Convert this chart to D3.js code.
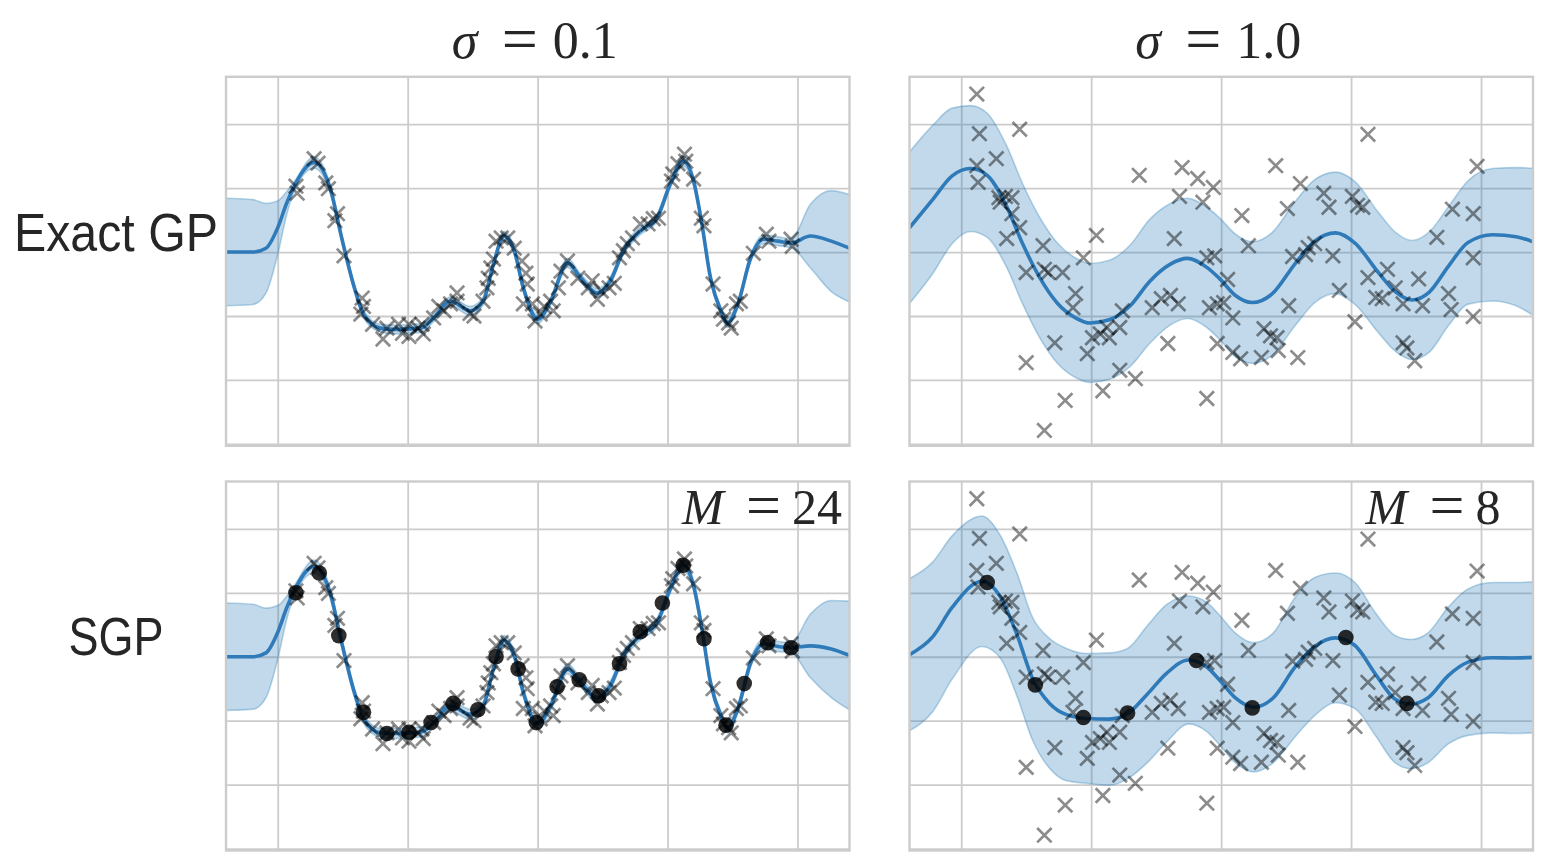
<!DOCTYPE html>
<html><head><meta charset="utf-8">
<script src="https://cdn.jsdelivr.net/npm/d3@7"></script>
<style>body{margin:0;background:#fff}</style>
</head><body>
<svg id="c" width="1548" height="866"></svg>
<script>
// ---------- tick values ----------
const xTicks = [-2, -1, 0, 1, 2];
const yTicks = [-3, -2, -1, 0, 1, 2];
const colNoise = ["0.1", "1.0"];
const rowLabels = ["Exact GP", "SGP"];
const inducingCount = ["24", "8"];

// ---------- observations (x, y) ----------
const dataLowNoise = [[-1.86,1.03],[-1.85,0.92],[-1.72,1.46],[-1.69,1.39],[-1.63,1.08],[-1.61,0.99],[-1.54,0.60],[-1.56,0.49],[-1.49,-0.06],[-1.35,-0.72],[-1.34,-0.85],[-1.36,-0.97],[-1.27,-1.13],[-1.19,-1.36],[-1.16,-1.19],[-1.07,-1.13],[-1.04,-1.27],[-0.99,-1.13],[-0.99,-1.32],[-0.92,-1.19],[-0.89,-1.13],[-0.88,-1.28],[-0.80,-1.03],[-0.76,-0.85],[-0.72,-0.92],[-0.67,-0.81],[-0.62,-0.64],[-0.62,-0.77],[-0.52,-0.96],[-0.49,-1.00],[-0.42,-0.77],[-0.39,-0.56],[-0.38,-0.41],[-0.36,-0.25],[-0.34,-0.11],[-0.32,0.17],[-0.28,0.22],[-0.23,0.22],[-0.18,0.06],[-0.12,-0.14],[-0.09,-0.33],[-0.08,-0.50],[-0.11,-0.81],[-0.04,-0.81],[-0.02,-1.08],[0.02,-0.97],[0.05,-0.85],[0.10,-0.77],[0.12,-0.92],[0.16,-0.56],[0.18,-0.30],[0.23,-0.14],[0.31,-0.41],[0.39,-0.56],[0.42,-0.45],[0.46,-0.74],[0.49,-0.61],[0.55,-0.56],[0.59,-0.49],[0.63,-0.09],[0.66,0.02],[0.69,0.13],[0.73,0.22],[0.79,0.44],[0.85,0.44],[0.89,0.52],[0.93,0.53],[1.03,1.11],[1.04,1.22],[1.08,1.38],[1.13,1.53],[1.14,1.42],[1.20,1.14],[1.26,0.53],[1.28,0.41],[1.35,-0.50],[1.41,-0.92],[1.43,-1.05],[1.47,-1.11],[1.49,-1.19],[1.53,-0.81],[1.56,-0.77],[1.66,-0.02],[1.76,0.28],[1.78,0.17],[1.95,0.20],[1.96,0.09]];

const dataHighNoise = [[-1.88,2.47],[-1.86,1.85],[-1.55,1.92],[-1.73,1.46],[-1.88,1.35],[-1.87,1.09],[-1.71,0.85],[-1.66,0.87],[-1.61,0.85],[-1.70,0.78],[-1.61,0.60],[-1.55,0.38],[-1.65,0.21],[-1.37,0.10],[-1.50,-0.32],[-1.36,-0.27],[-1.33,-0.32],[-1.22,-0.32],[-0.96,0.26],[-1.06,-0.09],[-1.12,-0.65],[-1.14,-0.87],[-1.28,-1.42],[-1.50,-1.73],[-1.20,-2.32],[-1.36,-2.79],[-1.03,-1.59],[-0.99,-1.34],[-0.93,-1.28],[-0.88,-1.18],[-0.86,-1.34],[-0.78,-1.18],[-0.76,-0.92],[-0.78,-1.85],[-0.66,-1.98],[-0.91,-2.17],[-0.63,1.20],[-0.53,-0.87],[-0.46,-0.73],[-0.39,-0.68],[-0.33,-0.81],[-0.41,-1.43],[-0.36,0.21],[-0.30,1.32],[-0.32,0.87],[-0.18,1.15],[-0.14,0.78],[-0.06,1.01],[-0.11,-0.09],[-0.05,-0.06],[-0.09,-0.87],[-0.03,-0.81],[-0.03,-1.43],[-0.11,-2.29],[0.02,-0.79],[0.05,-0.43],[0.09,-1.03],[0.09,-1.57],[0.15,-1.67],[0.16,0.57],[0.21,0.10],[0.31,-1.65],[0.33,-1.20],[0.38,-1.31],[0.43,-1.34],[0.44,-1.54],[0.59,-1.65],[0.52,-0.84],[0.42,1.35],[0.61,1.07],[0.51,0.68],[0.55,-0.07],[0.65,-0.04],[0.67,0.07],[0.72,0.13],[0.79,0.92],[0.83,0.70],[0.86,-0.06],[0.91,-0.60],[1.01,0.87],[1.05,0.73],[1.09,0.70],[1.13,1.84],[1.03,-1.09],[1.13,-0.40],[1.19,-0.71],[1.24,-0.73],[1.28,-0.27],[1.34,-0.56],[1.40,-0.81],[1.40,-1.42],[1.43,-1.50],[1.49,-1.70],[1.52,-0.42],[1.55,-0.84],[1.66,0.23],[1.75,-0.65],[1.77,-0.90],[1.78,0.67],[1.94,0.60],[1.94,-0.09],[1.94,-1.01],[1.97,1.34]];

// ---------- posterior: exact GP, sigma = 0.1 ----------
const exactLowX      = [-2.40,-2.19,-2.09,-2.00,-1.93,-1.88,-1.72,-1.59,-1.51,-1.41,-1.34,-1.21,-1.11,-0.90,-0.80,-0.67,-0.52,-0.42,-0.34,-0.26,-0.18,-0.11,0.00,0.10,0.23,0.33,0.46,0.56,0.66,0.79,0.92,1.02,1.12,1.20,1.26,1.33,1.41,1.46,1.54,1.64,1.74,1.85,1.95,2.10,2.26,2.40];
const exactLowMean   = [0.00,0.00,0.06,0.38,0.77,1.00,1.40,0.95,0.24,-0.56,-0.97,-1.19,-1.21,-1.19,-1.03,-0.77,-0.92,-0.77,-0.19,0.25,0.02,-0.56,-1.05,-0.77,-0.17,-0.40,-0.64,-0.45,0.02,0.33,0.54,1.06,1.42,1.11,0.49,-0.40,-0.92,-1.11,-0.82,-0.09,0.20,0.17,0.14,0.25,0.17,0.06];
const exactLowSpread = [0.84,0.82,0.70,0.42,0.18,0.08,0.09,0.07,0.06,0.06,0.06,0.06,0.07,0.07,0.06,0.07,0.07,0.06,0.06,0.07,0.06,0.06,0.07,0.06,0.07,0.06,0.07,0.06,0.06,0.06,0.06,0.06,0.08,0.07,0.06,0.06,0.06,0.07,0.06,0.06,0.07,0.07,0.07,0.50,0.79,0.84];

// ---------- posterior: SGP, sigma = 0.1, M = 24 ----------
const sgpLowX      = [-2.40,-2.19,-2.09,-2.00,-1.93,-1.88,-1.72,-1.59,-1.51,-1.41,-1.34,-1.21,-1.11,-0.90,-0.80,-0.67,-0.52,-0.42,-0.34,-0.26,-0.18,-0.11,0.00,0.10,0.23,0.33,0.46,0.56,0.66,0.79,0.92,1.02,1.12,1.20,1.26,1.33,1.41,1.46,1.54,1.64,1.74,1.85,1.95,2.10,2.26,2.40];
const sgpLowMean   = [0.00,0.00,0.06,0.38,0.77,1.00,1.41,0.95,0.24,-0.56,-0.97,-1.19,-1.20,-1.18,-1.03,-0.77,-0.90,-0.77,-0.19,0.25,0.02,-0.56,-1.05,-0.77,-0.19,-0.40,-0.64,-0.45,0.02,0.33,0.54,1.06,1.43,1.11,0.49,-0.40,-0.92,-1.11,-0.82,-0.09,0.20,0.16,0.14,0.17,0.12,0.02];
const sgpLowSpread = [0.84,0.82,0.70,0.42,0.18,0.09,0.10,0.08,0.07,0.07,0.07,0.07,0.08,0.08,0.07,0.08,0.08,0.07,0.07,0.08,0.07,0.07,0.08,0.07,0.08,0.07,0.08,0.07,0.07,0.07,0.07,0.07,0.09,0.08,0.07,0.07,0.07,0.08,0.07,0.07,0.08,0.08,0.08,0.50,0.76,0.85];

// ---------- posterior: exact GP, sigma = 1.0 ----------
const exactHighX      = [-2.40,-2.22,-2.07,-1.93,-1.80,-1.65,-1.53,-1.39,-1.26,-1.11,-1.01,-0.86,-0.70,-0.55,-0.39,-0.26,-0.11,-0.01,0.11,0.24,0.39,0.57,0.72,0.88,1.03,1.21,1.34,1.47,1.60,1.75,1.90,2.09,2.27,2.40];
const exactHighMean   = [0.375,0.82,1.19,1.305,1.20,0.71,0.14,-0.42,-0.80,-1.04,-1.11,-1.06,-0.84,-0.46,-0.19,-0.10,-0.24,-0.42,-0.68,-0.79,-0.66,-0.18,0.17,0.30,0.14,-0.32,-0.62,-0.75,-0.63,-0.22,0.15,0.27,0.24,0.16];
const exactHighSpread = [1.185,1.16,1.06,0.985,0.97,0.95,0.94,0.94,0.94,0.935,0.93,0.93,0.95,0.97,0.95,0.94,0.94,0.95,0.96,0.95,0.96,0.97,0.96,0.95,0.96,0.94,0.93,0.93,0.94,0.93,0.965,1.035,1.08,1.15];

// ---------- posterior: SGP, sigma = 1.0, M = 8 ----------
const sgpHighX      = [-2.40,-2.22,-2.07,-1.84,-1.70,-1.57,-1.45,-1.32,-1.19,-1.03,-0.86,-0.72,-0.57,-0.42,-0.25,-0.11,-0.01,0.11,0.25,0.40,0.57,0.72,0.88,1.03,1.19,1.34,1.46,1.59,1.75,1.90,2.09,2.23,2.40];
const sgpHighMean   = [0.03,0.31,0.77,1.18,0.94,0.34,-0.35,-0.73,-0.905,-0.965,-0.975,-0.89,-0.59,-0.26,-0.05,-0.16,-0.37,-0.645,-0.79,-0.645,-0.16,0.16,0.295,0.175,-0.28,-0.665,-0.74,-0.645,-0.29,-0.085,-0.015,-0.02,-0.01];
const sgpHighSpread = [1.19,1.17,1.12,1.02,0.96,0.96,0.96,1.015,1.035,1.015,1.035,1.02,1.07,1.075,1.0,1.01,1.015,1.015,1.01,1.015,1.09,1.08,1.015,0.985,0.96,0.995,1.01,1.015,1.07,1.145,1.175,1.18,1.18];

// ---------- inducing points ----------
const inducingLow  = [[-1.86,1.00],[-1.68,1.31],[-1.53,0.33],[-1.34,-0.87],[-1.16,-1.20],[-0.99,-1.18],[-0.82,-1.03],[-0.65,-0.73],[-0.46,-0.83],[-0.32,0.00],[-0.15,-0.19],[-0.01,-1.03],[0.15,-0.47],[0.32,-0.36],[0.47,-0.61],[0.63,-0.11],[0.79,0.39],[0.96,0.84],[1.12,1.43],[1.28,0.28],[1.45,-1.07],[1.59,-0.42],[1.77,0.22],[1.95,0.14]];
const inducingHigh = [[-1.80,1.16],[-1.43,-0.44],[-1.06,-0.95],[-0.72,-0.88],[-0.19,-0.06],[0.24,-0.80],[0.96,0.30],[1.43,-0.73]];

// ---------- drawing ----------
const svg = d3.select("#c");
const PW = 623.5, PH = 369;
const colX = [226, 909.5];
const rowY = [76.8, 481.5];
const xDomain = [-2.398, 2.4], yDomain = [-3.03, 2.74];
const LINE = "#2f7ab8", GRID = "#cccccc", TEXT = "#262626";

const panels = [
  {r:0, c:0, xs:exactLowX,  mean:exactLowMean,  sp:exactLowSpread,  data:dataLowNoise,  ind:null},
  {r:0, c:1, xs:exactHighX, mean:exactHighMean, sp:exactHighSpread, data:dataHighNoise, ind:null},
  {r:1, c:0, xs:sgpLowX,    mean:sgpLowMean,    sp:sgpLowSpread,    data:dataLowNoise,  ind:inducingLow,  label:inducingCount[0]},
  {r:1, c:1, xs:sgpHighX,   mean:sgpHighMean,   sp:sgpHighSpread,   data:dataHighNoise, ind:inducingHigh, label:inducingCount[1]}
];

const defs = svg.append("defs");

panels.forEach((p, i) => {
  const x0 = colX[p.c], y0 = rowY[p.r];
  const x = d3.scaleLinear().domain(xDomain).range([x0, x0 + PW]);
  const y = d3.scaleLinear().domain(yDomain).range([y0 + PH, y0]);
  defs.append("clipPath").attr("id", "clip" + i)
    .append("rect").attr("x", x0).attr("y", y0).attr("width", PW).attr("height", PH);
  const g = svg.append("g");
  g.append("rect").attr("x", x0).attr("y", y0).attr("width", PW).attr("height", PH).attr("fill", "#fff");

  // grid via axes
  const gx = g.append("g").attr("transform", `translate(0,${y0})`)
    .call(d3.axisBottom(x).tickValues(xTicks).tickSize(PH).tickFormat(""));
  const gy = g.append("g").attr("transform", `translate(${x0},0)`)
    .call(d3.axisRight(y).tickValues(yTicks).tickSize(PW).tickFormat(""));
  [gx, gy].forEach(a => {
    a.select(".domain").remove();
    a.selectAll("line").attr("stroke", GRID).attr("stroke-width", 1.8);
  });

  const body = g.append("g").attr("clip-path", `url(#clip${i})`);
  const idx = d3.range(p.xs.length);
  const area = d3.area().curve(d3.curveMonotoneX)
    .x(k => x(p.xs[k])).y0(k => y(p.mean[k] - p.sp[k])).y1(k => y(p.mean[k] + p.sp[k]));
  body.append("path").attr("d", area(idx)).attr("fill", "#1f77b4").attr("fill-opacity", 0.28);
  const edge = s => d3.line().curve(d3.curveMonotoneX).x(k => x(p.xs[k])).y(k => y(p.mean[k] + s * p.sp[k]));
  [1, -1].forEach(s => body.append("path").attr("d", edge(s)(idx))
    .attr("fill", "none").attr("stroke", "#1f77b4").attr("stroke-opacity", 0.3).attr("stroke-width", 1.6));
  body.append("path").attr("d", edge(0)(idx))
    .attr("fill", "none").attr("stroke", LINE).attr("stroke-width", 3.6);

  const s = 7.2;
  body.selectAll("path.obs").data(p.data).join("path").attr("class", "obs")
    .attr("d", d => {
      const cx = x(d[0]), cy = y(d[1]);
      return `M${cx - s},${cy - s}L${cx + s},${cy + s}M${cx - s},${cy + s}L${cx + s},${cy - s}`;
    })
    .attr("stroke", "#000").attr("stroke-opacity", 0.45).attr("stroke-width", 2.7).attr("fill", "none");

  if (p.ind) {
    body.selectAll("circle.ind").data(p.ind).join("circle").attr("class", "ind")
      .attr("cx", d => x(d[0])).attr("cy", d => y(d[1])).attr("r", 7.8)
      .attr("fill", "#000").attr("fill-opacity", 0.82);
  }

  g.append("rect").attr("x", x0).attr("y", y0).attr("width", PW).attr("height", PH)
    .attr("fill", "none").attr("stroke", GRID).attr("stroke-width", 2.4);

  if (p.label) {
    const lx = x0 + 456, by = 524;
    const t = g.append("text").attr("fill", TEXT).attr("font-family", "Liberation Serif, serif");
    t.append("tspan").attr("x", lx).attr("y", by).attr("font-size", 50).attr("font-style", "italic").text("M");
    t.append("tspan").attr("x", lx + 64).attr("y", by + 2).attr("font-size", 62).text("=");
    t.append("tspan").attr("x", lx + 110).attr("y", by).attr("font-size", 50).text(p.label);
  }
});

// column titles
colNoise.forEach((v, c) => {
  const cx = colX[c] + PW / 2, by = 58;
  const t = svg.append("text").attr("fill", TEXT).attr("font-family", "Liberation Serif, serif");
  t.append("tspan").attr("x", cx - 86).attr("y", by).attr("font-size", 52).attr("font-style", "italic").text("σ");
  t.append("tspan").attr("x", cx - 36).attr("y", by + 2).attr("font-size", 64).text("=");
  t.append("tspan").attr("x", cx + 15).attr("y", by).attr("font-size", 52).text(v);
});

// row labels
const rowBase = [251, 655];
const rowLen = [204, 95];
rowLabels.forEach((l, r) => {
  svg.append("text").attr("x", 116).attr("y", rowBase[r]).attr("text-anchor", "middle")
    .attr("font-family", "Liberation Sans, Arial, sans-serif").attr("font-size", 53)
    .attr("textLength", rowLen[r]).attr("lengthAdjust", "spacingAndGlyphs")
    .attr("fill", TEXT).text(l);
});
</script>
</body></html>
